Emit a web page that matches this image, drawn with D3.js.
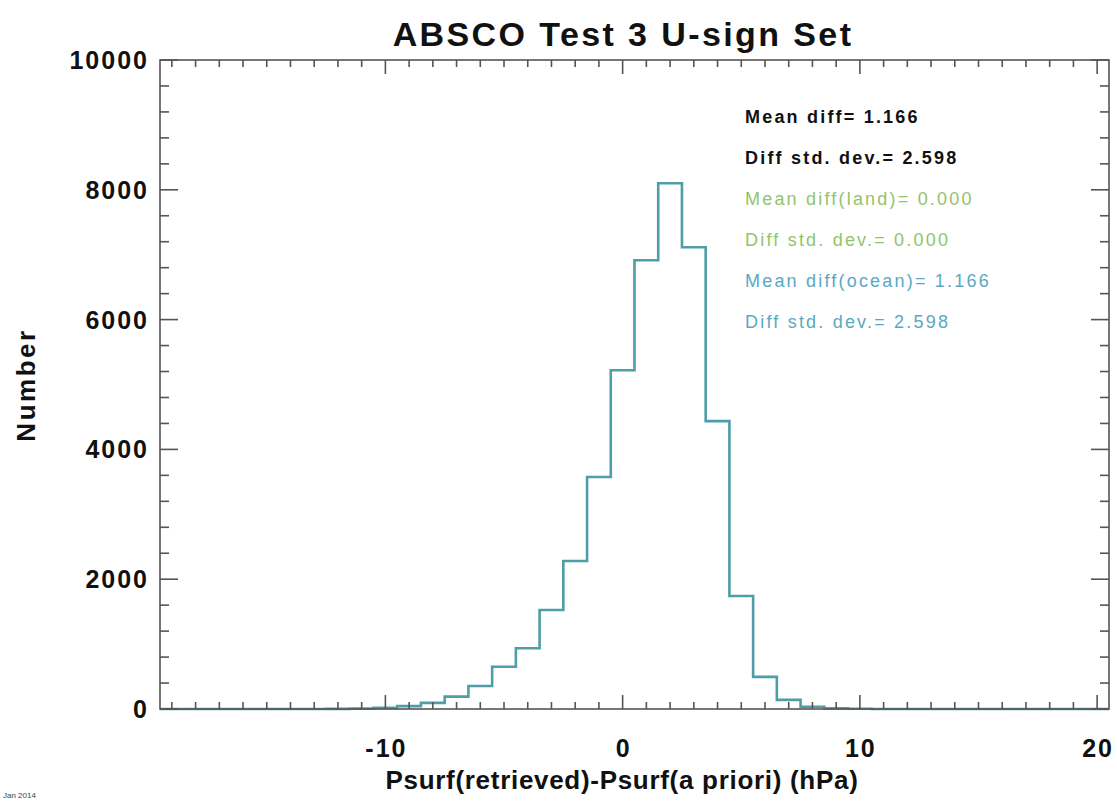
<!DOCTYPE html>
<html>
<head>
<meta charset="utf-8">
<script src="https://cdn.jsdelivr.net/npm/d3@7"></script>
<style>
  html, body { margin: 0; padding: 0; background: #fff; }
  svg { display: block; }
  text { font-family: "Liberation Sans", Arial, Helvetica, sans-serif; }
</style>
</head>
<body>
<svg id="chart" width="1117" height="801"></svg>
<script>
// ---- data ----
const title = "ABSCO Test 3 U-sign Set";
const xLabel = "Psurf(retrieved)-Psurf(a priori) (hPa)";
const yLabel = "Number";
const binCenters = [-19,-18,-17,-16,-15,-14,-13,-12,-11,-10,-9,-8,-7,-6,-5,-4,-3,-2,-1,0,1,2,3,4,5,6,7,8,9,10,11,12,13,14,15,16,17,18,19,20];
const binCounts  = [0,0,0,0,0,0,0,2,6,18,45,95,190,355,650,935,1525,2280,3575,5220,6915,8100,7115,4435,1740,495,140,35,10,3,0,0,0,0,0,0,0,0,0,0];
const xDomain = [-19.5, 20.5];
const yDomain = [0, 10000];
const xMajorTicks = [-10, 0, 10, 20];
const xMinorTicks = d3.range(-19, 21, 1);
const yMajorTicks = [0, 2000, 4000, 6000, 8000, 10000];
const yMinorTicks = d3.range(0, 10001, 400);
const statLines = ["Mean diff= 1.166", "Diff std. dev.= 2.598", "Mean diff(land)= 0.000", "Diff std. dev.= 0.000", "Mean diff(ocean)= 1.166", "Diff std. dev.= 2.598"];
const statColors = ["#111111", "#111111", "#93c36b", "#93c36b", "#5ba8c2", "#5ba8c2"];
const footnote = "Jan 2014";

// ---- layout ----
const svg = d3.select("#chart");
const L = 160, R = 1109, T = 60, B = 709;
const x = d3.scaleLinear().domain(xDomain).range([L, R]);
const y = d3.scaleLinear().domain(yDomain).range([B, T]);
const axisColor = "#555";

// histogram step line
const pts = [];
binCenters.forEach((c, i) => {
  pts.push([c - 0.5, binCounts[i]]);
  pts.push([c + 0.5, binCounts[i]]);
});
const line = d3.line().x(d => x(d[0])).y(d => y(d[1]));
svg.append("path")
  .attr("d", line(pts))
  .attr("fill", "none")
  .attr("stroke", "#4f9da6")
  .attr("stroke-width", 2.6)
  .attr("stroke-linejoin", "miter");

// frame
svg.append("rect")
  .attr("x", L).attr("y", T).attr("width", R - L).attr("height", B - T)
  .attr("fill", "none").attr("stroke", axisColor).attr("stroke-width", 1.6);

// ticks
const tg = svg.append("g").attr("stroke", axisColor).attr("stroke-width", 1.6);
xMinorTicks.forEach(v => {
  const major = xMajorTicks.includes(v);
  const len = major ? 14 : 7;
  tg.append("line").attr("x1", x(v)).attr("x2", x(v)).attr("y1", B).attr("y2", B - len);
  tg.append("line").attr("x1", x(v)).attr("x2", x(v)).attr("y1", T).attr("y2", T + len);
});
yMinorTicks.forEach(v => {
  const major = yMajorTicks.includes(v);
  const len = major ? 18 : 9;
  tg.append("line").attr("y1", y(v)).attr("y2", y(v)).attr("x1", L).attr("x2", L + len);
  tg.append("line").attr("y1", y(v)).attr("y2", y(v)).attr("x1", R).attr("x2", R - len);
});

// tick labels
svg.append("g").selectAll("text").data(xMajorTicks).join("text")
  .attr("x", d => x(d) + 1).attr("y", 757)
  .attr("text-anchor", "middle")
  .attr("font-size", 25).attr("font-weight", "bold").attr("fill", "#111")
  .attr("letter-spacing", 2)
  .text(d => d);
svg.append("g").selectAll("text").data(yMajorTicks).join("text")
  .attr("x", 149).attr("y", d => y(d) + 9)
  .attr("text-anchor", "end")
  .attr("font-size", 25).attr("font-weight", "bold").attr("fill", "#111")
  .attr("letter-spacing", 2)
  .text(d => d);

// title & axis labels
svg.append("text").attr("x", 623).attr("y", 46).attr("text-anchor", "middle")
  .attr("font-size", 34).attr("font-weight", "bold").attr("fill", "#111")
  .attr("letter-spacing", 2.4).text(title);
svg.append("text").attr("x", 622).attr("y", 789).attr("text-anchor", "middle")
  .attr("font-size", 26).attr("font-weight", "bold").attr("fill", "#111")
  .attr("letter-spacing", 0.7).text(xLabel);
svg.append("text").attr("transform", "translate(35,385) rotate(-90)").attr("text-anchor", "middle")
  .attr("font-size", 26).attr("font-weight", "bold").attr("fill", "#111")
  .attr("letter-spacing", 2.5).text(yLabel);

// stats
svg.append("g").selectAll("text").data(statLines).join("text")
  .attr("x", 745).attr("y", (d, i) => 123 + i * 41)
  .attr("font-size", 18).attr("font-weight", (d, i) => i < 2 ? "bold" : "normal")
  .attr("letter-spacing", 2.2)
  .attr("fill", (d, i) => statColors[i])
  .text(d => d);

// footnote
svg.append("text").attr("x", 3).attr("y", 798).attr("font-size", 8).attr("fill", "#444").text(footnote);
</script>
</body>
</html>
